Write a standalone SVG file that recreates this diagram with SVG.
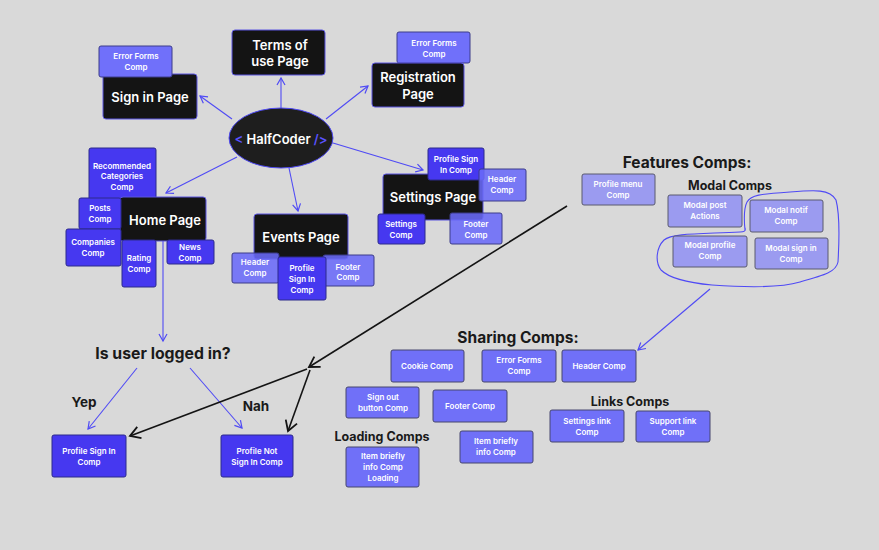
<svg xmlns="http://www.w3.org/2000/svg" width="879" height="550" viewBox="0 0 879 550">
<defs>
<style>
.blk{fill:#141414;stroke:#5a55e0;stroke-width:1}
.dk{fill:#4638f0;stroke:#2c2a8c;stroke-width:1}
.lt{fill:#7070fa;stroke:#3c3c8a;stroke-width:1}
.ltt{fill:#6a6af8;fill-opacity:0.88;stroke:#3c3c8a;stroke-width:1}
.lv{fill:#9b9bf0;stroke:#5a5a6e;stroke-width:1}
.sh{fill:#7070f8;stroke:#46466e;stroke-width:1}
text{font-family:Inter,"Liberation Sans",sans-serif;text-anchor:middle;dominant-baseline:central}
.pt{fill:#fff;font-size:13px;font-weight:600}
.ct{fill:#fff;font-size:8px;font-weight:600}
.hd{fill:#1a1a1a;font-weight:700}
.bl{stroke:#4f4af5;stroke-width:1.1;fill:none}
.bk{stroke:#141414;stroke-width:1.6;fill:none}
</style>
<marker id="ab" markerWidth="10" markerHeight="10" refX="8" refY="5" orient="auto" markerUnits="userSpaceOnUse">
<path d="M1,1 L8,5 L1,9" fill="none" stroke="#4f4af5" stroke-width="1.2"/>
</marker>
<marker id="ak" markerWidth="14" markerHeight="14" refX="11" refY="7" orient="auto" markerUnits="userSpaceOnUse">
<path d="M1,1 L11,7 L1,13" fill="none" stroke="#141414" stroke-width="1.8"/>
</marker>
</defs>
<rect width="879" height="550" fill="#d9d9d9"/>

<g id="connectors">
<line class="bl" x1="232" y1="119" x2="200" y2="96" marker-end="url(#ab)"/>
<line class="bl" x1="281" y1="108" x2="281" y2="78" marker-end="url(#ab)"/>
<line class="bl" x1="326" y1="119" x2="368" y2="86" marker-end="url(#ab)"/>
<line class="bl" x1="333" y1="143" x2="423" y2="170" marker-end="url(#ab)"/>
<line class="bl" x1="237" y1="157" x2="166" y2="193" marker-end="url(#ab)"/>
<line class="bl" x1="289" y1="168" x2="298" y2="211" marker-end="url(#ab)"/>
<line class="bl" x1="163" y1="241" x2="163" y2="341" marker-end="url(#ab)"/>
<line class="bl" x1="137" y1="368" x2="88" y2="429" marker-end="url(#ab)"/>
<line class="bl" x1="190" y1="368" x2="242" y2="428" marker-end="url(#ab)"/>
<line class="bl" x1="710" y1="289" x2="638" y2="350" marker-end="url(#ab)"/>
<line class="bk" x1="567" y1="206" x2="309" y2="367" marker-end="url(#ak)"/>
<line class="bk" x1="307" y1="369" x2="130" y2="436" marker-end="url(#ak)"/>
<line class="bk" x1="310" y1="370" x2="288" y2="431" marker-end="url(#ak)"/>
<path class="bl" d="M745,230 C744,220 744,208 747,202 C751,195 760,194 790,192 C815,190 830,189 836,200 C840,215 839,245 838,262 C836,272 825,275 800,282 C780,288 740,287 712,285 C690,283 670,279 661,270 C655,262 656,248 664,240 C672,233 700,234 740,232 C744,232 746,231 745,228"/>
</g>

<g id="n-halfcoder">
<ellipse cx="281" cy="138" rx="52" ry="30" fill="#1e1e1e" stroke="#4f4af5" stroke-width="1"/>
<text x="281" y="139" class="pt" font-size="14"><tspan fill="#5a52ff">&lt;</tspan> HalfCoder <tspan fill="#5a52ff">/&gt;</tspan></text>
</g>

<g id="n-signin">
<rect class="blk" x="103" y="74" width="94" height="45" rx="3"/>
<text class="pt" x="150" y="97">Sign in Page</text>
</g>
<g id="n-signin-err">
<rect class="lt" x="99" y="46" width="73" height="31" rx="2"/>
<text class="ct" x="136" y="56">Error Forms</text>
<text class="ct" x="136" y="67">Comp</text>
</g>

<g id="n-terms">
<rect class="blk" x="232" y="30" width="93" height="45" rx="3"/>
<text class="pt" x="280" y="45">Terms of</text>
<text class="pt" x="280" y="61">use Page</text>
</g>

<g id="n-reg-err">
<rect class="lt" x="397" y="32" width="73" height="31" rx="2"/>
<text class="ct" x="434" y="43">Error Forms</text>
<text class="ct" x="434" y="54">Comp</text>
</g>
<g id="n-reg">
<rect class="blk" x="372" y="63" width="92" height="44" rx="3"/>
<text class="pt" x="418" y="77">Registration</text>
<text class="pt" x="418" y="94">Page</text>
</g>

<g id="n-recommended">
<rect class="dk" x="89" y="148" width="67" height="53" rx="2"/>
<text class="ct" x="122" y="166">Recommended</text>
<text class="ct" x="122" y="176">Categories</text>
<text class="ct" x="122" y="187">Comp</text>
</g>
<g id="n-home">
<rect class="blk" x="120" y="197" width="86" height="44" rx="3"/>
<text class="pt" x="165" y="220">Home Page</text>
</g>
<g id="n-posts">
<rect class="dk" x="79" y="198" width="42" height="31" rx="2"/>
<text class="ct" x="100" y="208">Posts</text>
<text class="ct" x="100" y="219">Comp</text>
</g>
<g id="n-companies">
<rect class="dk" x="66" y="229" width="55" height="37" rx="2"/>
<text class="ct" x="93" y="242">Companies</text>
<text class="ct" x="93" y="253">Comp</text>
</g>
<g id="n-rating">
<rect class="dk" x="122" y="240" width="34" height="47" rx="2"/>
<text class="ct" x="139" y="258">Rating</text>
<text class="ct" x="139" y="269">Comp</text>
</g>
<g id="n-news">
<rect class="dk" x="167" y="240" width="47" height="24" rx="2"/>
<text class="ct" x="190" y="247">News</text>
<text class="ct" x="190" y="258">Comp</text>
</g>

<g id="n-events">
<rect class="blk" x="254" y="214" width="94" height="45" rx="3"/>
<text class="pt" x="301" y="237">Events Page</text>
</g>
<g id="n-events-header">
<rect class="ltt" x="232" y="253" width="47" height="30" rx="2"/>
<text class="ct" x="255" y="262">Header</text>
<text class="ct" x="255" y="273">Comp</text>
</g>
<g id="n-events-footer">
<rect class="ltt" x="323" y="255" width="51" height="31" rx="2"/>
<text class="ct" x="348" y="267">Footer</text>
<text class="ct" x="348" y="277">Comp</text>
</g>
<g id="n-events-profile">
<rect class="dk" x="278" y="257" width="48" height="43" rx="2"/>
<text class="ct" x="302" y="268">Profile</text>
<text class="ct" x="302" y="279">Sign In</text>
<text class="ct" x="302" y="290">Comp</text>
</g>

<g id="n-settings">
<rect class="blk" x="383" y="174" width="100" height="46" rx="3"/>
<text class="pt" x="433" y="197">Settings Page</text>
</g>
<g id="n-settings-profile">
<rect class="dk" x="428" y="148" width="56" height="32" rx="2"/>
<text class="ct" x="456" y="159">Profile Sign</text>
<text class="ct" x="456" y="170">In Comp</text>
</g>
<g id="n-settings-header">
<rect class="ltt" x="479" y="169" width="47" height="32" rx="2"/>
<text class="ct" x="502" y="179">Header</text>
<text class="ct" x="502" y="190">Comp</text>
</g>
<g id="n-settings-comp">
<rect class="dk" x="378" y="214" width="47" height="30" rx="2"/>
<text class="ct" x="401" y="224">Settings</text>
<text class="ct" x="401" y="235">Comp</text>
</g>
<g id="n-settings-footer">
<rect class="ltt" x="450" y="213" width="52" height="31" rx="2"/>
<text class="ct" x="476" y="224">Footer</text>
<text class="ct" x="476" y="235">Comp</text>
</g>

<g id="n-features">
<text class="hd" x="687" y="162" font-size="15.5">Features Comps:</text>
<rect class="lv" x="582" y="174" width="73" height="31" rx="2"/>
<text class="ct" x="618" y="184">Profile menu</text>
<text class="ct" x="618" y="195">Comp</text>
<text class="hd" x="730" y="185" font-size="12.5">Modal Comps</text>
</g>
<g id="n-modal-post">
<rect class="lv" x="668" y="195" width="74" height="32" rx="2"/>
<text class="ct" x="705" y="205">Modal post</text>
<text class="ct" x="705" y="216">Actions</text>
</g>
<g id="n-modal-notif">
<rect class="lv" x="750" y="200" width="73" height="32" rx="2"/>
<text class="ct" x="786" y="210">Modal notif</text>
<text class="ct" x="786" y="221">Comp</text>
</g>
<g id="n-modal-profile">
<rect class="lv" x="673" y="236" width="74" height="31" rx="2"/>
<text class="ct" x="710" y="245">Modal profile</text>
<text class="ct" x="710" y="256">Comp</text>
</g>
<g id="n-modal-signin">
<rect class="lv" x="755" y="238" width="73" height="31" rx="2"/>
<text class="ct" x="791" y="248">Modal sign in</text>
<text class="ct" x="791" y="259">Comp</text>
</g>

<g id="n-question">
<text class="hd" x="163" y="353" font-size="15.8">Is user logged in?</text>
<text class="hd" x="84" y="402" font-size="13.5">Yep</text>
<text class="hd" x="256" y="406" font-size="13.5">Nah</text>
</g>
<g id="n-profile-signin">
<rect class="dk" x="52" y="435" width="74" height="42" rx="2"/>
<text class="ct" x="89" y="451">Profile Sign In</text>
<text class="ct" x="89" y="462">Comp</text>
</g>
<g id="n-profile-notsignin">
<rect class="dk" x="221" y="435" width="72" height="42" rx="2"/>
<text class="ct" x="257" y="451">Profile Not</text>
<text class="ct" x="257" y="462">Sign In Comp</text>
</g>

<g id="n-sharing">
<text class="hd" x="518" y="337" font-size="15.5">Sharing Comps:</text>
</g>
<g id="n-cookie">
<rect class="sh" x="391" y="350" width="73" height="32" rx="2"/>
<text class="ct" x="427" y="366">Cookie Comp</text>
</g>
<g id="n-errorforms">
<rect class="sh" x="482" y="350" width="74" height="32" rx="2"/>
<text class="ct" x="519" y="360">Error Forms</text>
<text class="ct" x="519" y="371">Comp</text>
</g>
<g id="n-header">
<rect class="sh" x="562" y="350" width="74" height="32" rx="2"/>
<text class="ct" x="599" y="366">Header Comp</text>
</g>
<g id="n-signout">
<rect class="sh" x="346" y="387" width="73" height="31" rx="2"/>
<text class="ct" x="383" y="397">Sign out</text>
<text class="ct" x="383" y="408">button Comp</text>
</g>
<g id="n-footer">
<rect class="sh" x="433" y="390" width="74" height="32" rx="2"/>
<text class="ct" x="470" y="406">Footer Comp</text>
</g>
<g id="n-itembrief">
<rect class="sh" x="460" y="431" width="73" height="32" rx="2"/>
<text class="ct" x="496" y="441">Item briefly</text>
<text class="ct" x="496" y="452">info Comp</text>
</g>
<g id="n-loading">
<text class="hd" x="382" y="436" font-size="12.5">Loading Comps</text>
<rect class="sh" x="346" y="447" width="73" height="40" rx="2"/>
<text class="ct" x="383" y="456">Item briefly</text>
<text class="ct" x="383" y="467">info Comp</text>
<text class="ct" x="383" y="478">Loading</text>
</g>
<g id="n-links">
<text class="hd" x="630" y="401" font-size="12.5">Links Comps</text>
</g>
<g id="n-settingslink">
<rect class="sh" x="550" y="410" width="74" height="32" rx="2"/>
<text class="ct" x="587" y="421">Settings link</text>
<text class="ct" x="587" y="432">Comp</text>
</g>
<g id="n-supportlink">
<rect class="sh" x="636" y="411" width="74" height="31" rx="2"/>
<text class="ct" x="673" y="421">Support link</text>
<text class="ct" x="673" y="432">Comp</text>
</g>
</svg>
